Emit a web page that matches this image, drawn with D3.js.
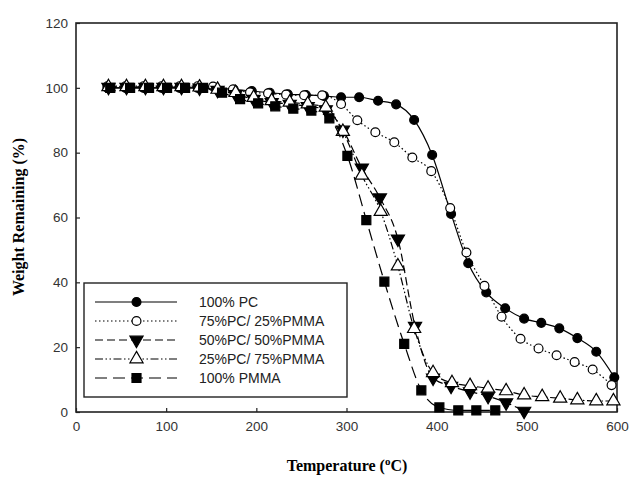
<!DOCTYPE html>
<html><head><meta charset="utf-8">
<script src="https://cdn.jsdelivr.net/npm/d3@7"></script>
<style>body{margin:0;background:#fff}</style>
</head><body>
<svg id="chart" width="630" height="479"></svg>
<script>
const seriesNames = ["100% PC", "75%PC/ 25%PMMA", "50%PC/ 50%PMMA", "25%PC/ 75%PMMA", "100% PMMA"];

const pcTemp = [35,55,75,95,115,135,155,175,195,215,235,255,275,294,314,335,355,375,395,416,435,455,476,497,516,536,556,577,597];
const pcWeight = [100,100,100,100,100,100,99.8,99.5,99,98.5,98,97.8,97.5,97.1,97.1,96,94.9,90.1,79.3,61.1,45.9,36.9,32,28.8,27.5,25.8,22.8,18.6,10.7];

const pc75Temp = [35,55,75,95,115,135,152,174,193,213,233,253,273,294,312,332,353,373,394,415,433,453,472,493,513,533,553,573,594];
const pc75Weight = [100.5,100.5,100.5,100.5,100.5,100.5,100.4,99.5,98.6,98.3,97.9,97.7,97.7,95,90,86.3,83.2,78.5,74.3,62.9,49.2,38.9,29.4,22.6,19.6,17.5,15.4,13.1,8.3];

const pc50Temp = [36,56,77,97,117,137,157,177,197,217,237,257,277,296,317,337,357,376,396,416,437,457,477,497];
const pc50Weight = [100.2,100.2,100.2,100.2,100.2,100,99.3,98,96.5,95.5,95,94.3,93.3,87,75.3,66.1,53.4,26.5,10.5,8,6.3,4.9,2.9,0.3];

const pc25Temp = [36,56,77,97,117,137,157,177,197,217,237,257,277,296,317,338,357,375,396,417,437,457,477,497,517,537,556,577,596];
const pc25Weight = [100.3,100.3,100.3,100.3,100.3,100.2,99.5,98.5,97,96,95.5,95,94,86.5,73,61.8,45,25.7,12.1,9,8.1,7.3,6.5,5.2,4.7,4.2,3.7,3.4,3.4];

const pmmaTemp = [38,60,81,101,121,141,162,182,202,221,241,261,281,301,322,342,364,383,403,424,444,465];
const pmmaWeight = [100,100,100,100,100,100,98.5,96.5,95.2,94.3,93.6,93,90.6,79,59.2,40.2,21,6.7,1.4,0.5,0.5,0.5];

const xTicks = [0,100,200,300,400,500,600];
const yTicks = [0,20,40,60,80,100,120];

const temps = [pcTemp, pc75Temp, pc50Temp, pc25Temp, pmmaTemp];
const weights = [pcWeight, pc75Weight, pc50Weight, pc25Weight, pmmaWeight];
const dashes = [null, "1.5,2.5", "8,4", "8,2.5,1.5,2.5,1.5,2.5", "12,6"];
const symbols = [d3.symbolCircle, d3.symbolCircle, d3.symbolTriangle, d3.symbolTriangle, d3.symbolSquare];
const fills = ["#000", "#fff", "#000", "#fff", "#000"];
const rotations = [0, 0, 180, 0, 0];
const sizes = [62, 62, 75, 75, 81];

const svg = d3.select("#chart");
const x = d3.scaleLinear().domain([0, 600]).range([76, 617]);
const y = d3.scaleLinear().domain([0, 120]).range([412, 23]);

// axes
const xAxis = d3.axisBottom(x).tickValues(xTicks).tickSizeInner(-4).tickSizeOuter(0).tickPadding(9);
const yAxis = d3.axisLeft(y).tickValues(yTicks).tickSizeInner(-4).tickSizeOuter(0).tickPadding(8);
const gx = svg.append("g").attr("transform", "translate(0,412)").call(xAxis);
const gy = svg.append("g").attr("transform", "translate(76,0)").call(yAxis);
[gx, gy].forEach(g => {
  g.select(".domain").remove();
  g.selectAll(".tick line").attr("stroke", "#222").attr("stroke-width", 1.2);
  g.selectAll(".tick text").attr("font-family", "Liberation Sans, Arial, sans-serif").attr("font-size", 13.5).attr("fill", "#333");
});

// frame
svg.append("rect").attr("x", 76).attr("y", 23).attr("width", 617 - 76).attr("height", 412 - 23)
  .attr("fill", "none").attr("stroke", "#222").attr("stroke-width", 1.6);

const line = d3.line().x(d => x(d[0])).y(d => y(d[1])).curve(d3.curveMonotoneX);

function marker(g, i, px, py) {
  g.append("path")
    .attr("d", d3.symbol().type(symbols[i]).size(sizes[i])())
    .attr("transform", `translate(${px},${py}) rotate(${rotations[i]})`)
    .attr("fill", fills[i]).attr("stroke", "#000").attr("stroke-width", 1.2);
}

for (let i = 0; i < 5; i++) {
  const pts = temps[i].map((t, k) => [t, weights[i][k]]);
  const g = svg.append("g");
  g.append("path").attr("d", line(pts)).attr("fill", "none").attr("stroke", "#000")
    .attr("stroke-width", 1.2).attr("stroke-dasharray", dashes[i]);
  pts.forEach(p => marker(g, i, x(p[0]), y(p[1])));
}

// legend
const lg = svg.append("g");
lg.append("rect").attr("x", 84).attr("y", 283).attr("width", 263).attr("height", 114)
  .attr("fill", "#fff").attr("stroke", "#222").attr("stroke-width", 1.4);
const rowY = [302, 321, 340, 359, 378];
seriesNames.forEach((name, i) => {
  lg.append("line").attr("x1", 95).attr("x2", 177).attr("y1", rowY[i]).attr("y2", rowY[i])
    .attr("stroke", "#000").attr("stroke-width", 1.2).attr("stroke-dasharray", dashes[i]);
  marker(lg, i, 136.5, rowY[i]);
  lg.append("text").attr("x", 199).attr("y", rowY[i] + 5).text(name)
    .attr("font-family", "Liberation Sans, Arial, sans-serif").attr("font-size", 14).attr("fill", "#222");
});

// axis titles
svg.append("text").attr("transform", "translate(24,217) rotate(-90)").attr("text-anchor", "middle")
  .attr("font-family", "Liberation Serif, Times New Roman, serif").attr("font-weight", "bold").attr("font-size", 16)
  .text("Weight Remaining (%)");
const xt = svg.append("text").attr("x", 347).attr("y", 471).attr("text-anchor", "middle")
  .attr("font-family", "Liberation Serif, Times New Roman, serif").attr("font-weight", "bold").attr("font-size", 16);
xt.append("tspan").text("Temperature (");
xt.append("tspan").attr("font-size", 11).attr("dy", -6).text("o");
xt.append("tspan").attr("dy", 6).text("C)");
</script>
</body></html>
